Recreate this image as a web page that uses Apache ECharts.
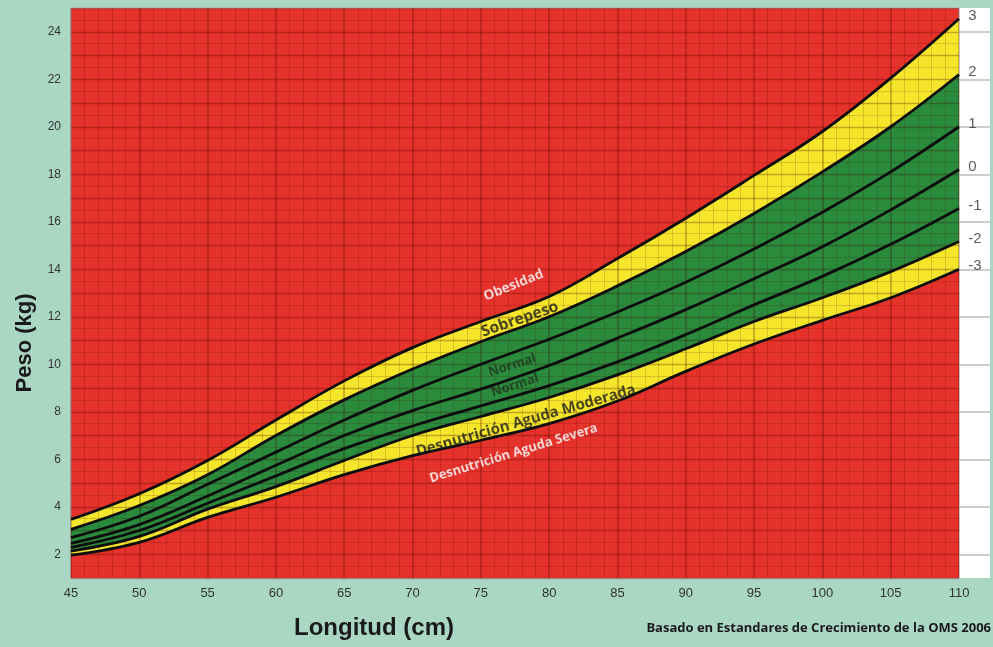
<!DOCTYPE html>
<html>
<head>
<meta charset="utf-8">
<script src="https://cdn.jsdelivr.net/npm/echarts@6/dist/echarts.min.js"></script>
<style>
  html, body { margin: 0; padding: 0; background: #aad6c4; }
  #chart { width: 993px; height: 647px; }
</style>
</head>
<body>
<div id="chart"></div>
<script>
// Weight-for-length reference curves (z-scores), kg at each length in cm
const lengthCm = [45, 50, 55, 60, 65, 70, 75, 80, 85, 90, 95, 100, 105, 110];
const sdPlus3  = [3.47, 4.55, 5.95, 7.65, 9.30, 10.70, 11.80, 12.85, 14.45, 16.15, 17.95, 19.80, 22.05, 24.55];
const sdPlus2  = [3.05, 4.05, 5.35, 7.00, 8.50, 9.80, 10.95, 12.00, 13.30, 14.75, 16.35, 18.10, 20.00, 22.20];
const sdPlus1  = [2.70, 3.60, 4.95, 6.30, 7.65, 8.90, 10.00, 11.05, 12.20, 13.45, 14.85, 16.40, 18.10, 20.00];
const sdZero   = [2.46, 3.25, 4.45, 5.75, 7.00, 8.05, 8.95, 9.95, 11.10, 12.30, 13.60, 14.95, 16.50, 18.20];
const sdMinus1 = [2.29, 3.00, 4.15, 5.30, 6.45, 7.40, 8.25, 9.10, 10.10, 11.25, 12.50, 13.70, 15.05, 16.56];
const sdMinus2 = [2.13, 2.75, 3.90, 4.85, 5.95, 7.00, 7.80, 8.60, 9.55, 10.65, 11.80, 12.80, 13.90, 15.17];
const sdMinus3 = [1.96, 2.50, 3.55, 4.40, 5.35, 6.15, 6.80, 7.50, 8.45, 9.70, 10.85, 11.85, 12.80, 14.00];

const curveNames = ['3', '2', '1', '0', '-1', '-2', '-3'];
const xTickLabels = [45, 50, 55, 60, 65, 70, 75, 80, 85, 90, 95, 100, 105, 110];
const yTickLabels = [2, 4, 6, 8, 10, 12, 14, 16, 18, 20, 22, 24];
const zoneNames = ['Obesidad', 'Sobrepeso', 'Normal', 'Normal',
                   'Desnutrición Aguda Moderada', 'Desnutrición Aguda Severa'];

const curves = [sdPlus3, sdPlus2, sdPlus1, sdZero, sdMinus1, sdMinus2, sdMinus3];

// Where each zone caption sits (length, weight) and how it is tilted
const zoneLabelLayout = [
  { at: [77.4, 13.32], rotate: 22, color: '#ffffff', size: 13.5 },
  { at: [77.85, 11.89], rotate: 19, color: '#1d1d1d', size: 15.5 },
  { at: [77.3, 9.95], rotate: 18, color: '#1d3320', size: 13 },
  { at: [77.5, 9.11], rotate: 18, color: '#1d3320', size: 13 },
  { at: [78.3, 7.62], rotate: 16, color: '#1d1d1d', size: 15 },
  { at: [77.4, 6.25], rotate: 17, color: '#ffffff', size: 13 }
];

const RED = '#e5322a', YELLOW = '#f5e62c', GREEN = '#2b8b3c';
const FONT = '"Liberation Sans", Arial, sans-serif';
const SMOOTH = 0.4;

const pairs = vals => lengthCm.map((x, i) => [x, vals[i]]);

// Colour bands: each fill runs from its curve down to the axis floor,
// painted top curve first so the lower ones cover it.
const bandFills = [
  [sdPlus3, YELLOW],
  [sdPlus2, GREEN],
  [sdMinus2, YELLOW],
  [sdMinus3, RED]
];
const series = bandFills.map(([vals, color]) => ({
  type: 'line', data: pairs(vals), smooth: SMOOTH, symbol: 'none', silent: true, z: 1,
  lineStyle: { width: 0, opacity: 0 },
  areaStyle: { color: color, opacity: 1, origin: 'start' }
}));

// the seven black z-score curves
curves.forEach((vals, i) => {
  series.push({
    type: 'line', name: curveNames[i], data: pairs(vals), smooth: SMOOTH,
    symbol: 'none', silent: true, z: 6,
    lineStyle: { color: '#0d0d0d', width: 2.8 }
  });
});

// zone captions
series.push({
  type: 'scatter', symbolSize: 0, silent: true, z: 8,
  data: zoneLabelLayout.map((l, i) => ({
    value: l.at,
    label: {
      show: true, position: 'inside', formatter: zoneNames[i], rotate: l.rotate,
      color: l.color, fontSize: l.size, fontWeight: 'bold',
      fontFamily: '"Open Sans", Lato, sans-serif'
    }
  }))
});

// z-score names in the side strip, at each curve's final value
series.push({
  type: 'scatter', xAxisIndex: 1, yAxisIndex: 1, symbolSize: 0, silent: true, z: 8,
  data: curves.map((vals, i) => ({ value: [0.3, vals[vals.length - 1]], name: curveNames[i] })),
  label: {
    show: true, position: 'right', distance: 0, offset: [0, -3],
    formatter: p => p.name, color: '#333', fontSize: 15, fontFamily: FONT
  },
  markLine: {
    silent: true, symbol: ['none', 'none'], label: { show: false },
    lineStyle: { color: '#bdbdbd', width: 1.5, type: 'solid' },
    data: yTickLabels.map(v => ({ yAxis: v }))
  }
});

const chart = echarts.init(document.getElementById('chart'), null, { renderer: 'canvas' });
chart.setOption({
  backgroundColor: '#aad6c4',
  animation: false,
  grid: [
    { left: 71, right: 34, top: 8, bottom: 69, show: true, backgroundColor: RED,
      borderColor: '#d6b2aa', borderWidth: 1 },
    { left: 959, right: 3, top: 8, bottom: 69, show: true, backgroundColor: '#ffffff',
      borderWidth: 0 }
  ],
  xAxis: [
    {
      type: 'value', gridIndex: 0, min: 45, max: 110, interval: 5, z: 3,
      axisLine: { show: false }, axisTick: { show: false },
      axisLabel: {
        color: '#333', fontSize: 13, margin: 9, fontFamily: FONT,
        formatter: v => (xTickLabels.indexOf(v) >= 0 ? String(v) : '')
      },
      splitLine: { show: true, lineStyle: { color: 'rgba(60,0,0,0.30)', width: 1.6 } },
      minorTick: { show: false, splitNumber: 5 },
      minorSplitLine: { show: true, lineStyle: { color: 'rgba(60,0,0,0.16)', width: 1 } }
    },
    { type: 'value', gridIndex: 1, min: 0, max: 1, show: false }
  ],
  yAxis: [
    {
      type: 'value', gridIndex: 0, min: 1, max: 25, interval: 1, z: 3,
      axisLine: { show: false }, axisTick: { show: false },
      axisLabel: {
        color: '#333', fontSize: 12, margin: 10, fontFamily: FONT,
        formatter: v => (yTickLabels.indexOf(v) >= 0 ? String(v) : '')
      },
      splitLine: { show: true, lineStyle: { color: 'rgba(60,0,0,0.28)', width: 1.4 } },
      minorTick: { show: false, splitNumber: 2 },
      minorSplitLine: { show: true, lineStyle: { color: 'rgba(60,0,0,0.16)', width: 1 } }
    },
    { type: 'value', gridIndex: 1, min: 1, max: 25, show: false }
  ],
  graphic: [
    { type: 'text', x: 25, y: 343, rotation: Math.PI / 2,
      style: { text: 'Peso (kg)', fill: '#1a1a1a', font: 'bold 22px ' + FONT,
               textAlign: 'center', textVerticalAlign: 'middle' } },
    { type: 'text', x: 374, y: 628,
      style: { text: 'Longitud (cm)', fill: '#1a1a1a', font: 'bold 24px ' + FONT,
               textAlign: 'center', textVerticalAlign: 'middle' } },
    { type: 'text', x: 991, y: 628,
      style: { text: 'Basado en Estandares de Crecimiento de la OMS 2006', fill: '#1a1a1a',
               font: 'bold 13px "Open Sans", Lato, sans-serif',
               textAlign: 'right', textVerticalAlign: 'middle' } }
  ],
  series: series
});
</script>
</body>
</html>
